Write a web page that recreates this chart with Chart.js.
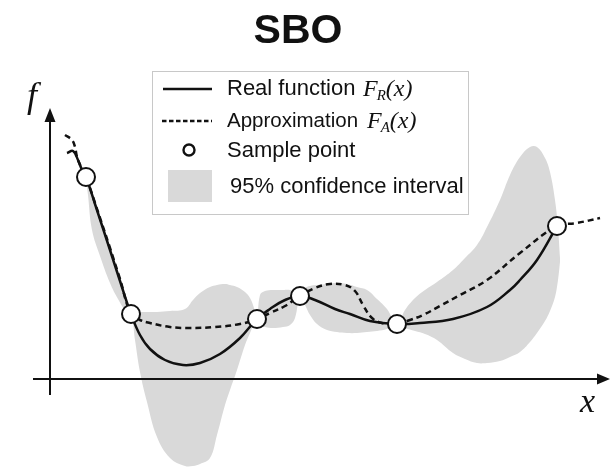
<!DOCTYPE html>
<html>
<head>
<meta charset="utf-8">
<title>SBO</title>
<script src="https://cdn.jsdelivr.net/npm/chart.js@4.4.0/dist/chart.umd.min.js"></script>
<style>
  html, body { margin: 0; padding: 0; background: #fff; }
  #wrap { width: 610px; height: 468px; }
</style>
</head>
<body>
<div id="wrap"><canvas id="sboChart" width="610" height="468"></canvas></div>
<script>
// plot units, origin at the crossing of the two axes
const sampleX = [0.72, 1.62, 4.14, 5.00, 6.94, 10.14];
const sampleY = [4.04, 1.30, 1.20, 1.66, 1.10, 3.06];

const realX = [0.34, 0.46, 0.56, 0.64, 0.72, 0.90, 1.20, 1.40, 1.62, 1.80, 2.00, 2.30, 2.66, 3.00, 3.40, 3.80, 4.14,
               4.40, 4.70, 5.00, 5.30, 5.70, 6.00, 6.40, 6.94, 7.40, 8.06, 8.74, 9.20, 9.40, 9.74, 10.14];
const realY = [4.52, 4.56, 4.38, 4.18, 4.04, 3.50, 2.58, 1.96, 1.30, 0.88, 0.60, 0.38, 0.28, 0.32, 0.50, 0.82, 1.20,
               1.40, 1.58, 1.66, 1.58, 1.40, 1.30, 1.16, 1.10, 1.12, 1.20, 1.44, 1.78, 1.98, 2.38, 3.06];

const approxX = [0.30, 0.44, 0.50, 0.54, 0.62, 0.72, 0.90, 1.20, 1.40, 1.62, 1.80, 2.00, 2.40, 2.80, 3.30, 3.80, 4.14,
                 4.40, 4.70, 5.00, 5.30, 5.60, 5.90, 6.10, 6.26, 6.44, 6.64, 6.94, 7.20, 7.46, 7.80, 8.20, 8.74,
                 9.40, 10.14, 10.54, 11.00];
const approxY = [4.88, 4.78, 4.64, 4.44, 4.24, 4.04, 3.52, 2.62, 2.00, 1.30, 1.18, 1.12, 1.04, 1.02, 1.04, 1.10, 1.20,
                 1.32, 1.46, 1.66, 1.82, 1.90, 1.88, 1.76, 1.48, 1.22, 1.12, 1.10, 1.18, 1.28, 1.46, 1.68, 1.98,
                 2.52, 3.06, 3.12, 3.22];

const bandX = [0.72, 0.76, 0.84, 1.00, 1.20, 1.36, 1.50, 1.62, 1.70, 1.80, 1.94, 2.14, 2.40, 2.70, 2.86, 3.00,
               3.20, 3.34, 3.50, 3.60, 3.74, 3.90, 4.00, 4.08, 4.14, 4.20, 4.30, 4.46, 4.66, 4.80, 4.90, 5.00,
               5.10, 5.20, 5.34, 5.54, 5.74, 5.94, 6.14, 6.34, 6.54, 6.74, 6.94, 7.10, 7.30, 7.50, 7.74, 8.06,
               8.30, 8.54, 8.74, 9.00, 9.20, 9.40, 9.60, 9.74, 9.90, 10.00, 10.10, 10.16, 10.20];
const bandUpper = [4.04, 3.98, 3.72, 3.24, 2.62, 2.14, 1.72, 1.30, 1.34, 1.34, 1.34, 1.34, 1.36, 1.40, 1.58, 1.72,
                   1.84, 1.88, 1.90, 1.88, 1.84, 1.74, 1.62, 1.42, 1.20, 1.68, 1.76, 1.78, 1.78, 1.78, 1.74, 1.66,
                   1.82, 1.86, 1.88, 1.90, 1.92, 1.90, 1.84, 1.78, 1.60, 1.40, 1.10, 1.38, 1.62, 1.78, 1.94, 2.18,
                   2.42, 2.68, 3.04, 3.58, 4.08, 4.44, 4.64, 4.64, 4.42, 4.14, 3.58, 3.02, 2.42];
const bandLower = [4.04, 3.68, 2.98, 2.46, 1.92, 1.60, 1.38, 1.30, 0.78, 0.14, -0.46, -1.16, -1.58, -1.74, -1.74, -1.70,
                   -1.58, -1.12, -0.52, -0.22, 0.18, 0.68, 0.92, 1.10, 1.20, 1.08, 1.04, 1.02, 1.04, 1.08, 1.22, 1.66,
                   1.48, 1.28, 1.10, 0.98, 0.94, 0.92, 0.92, 0.94, 0.96, 1.00, 1.10, 1.02, 0.96, 0.90, 0.78, 0.52,
                   0.40, 0.32, 0.32, 0.36, 0.44, 0.54, 0.74, 0.92, 1.16, 1.36, 1.64, 1.98, 2.34];

const toPoints = (xs, ys) => xs.map((x, i) => ({ x: x, y: ys[i] }));

const bandGrey = '#d9d9d9';
const ink = '#111';

// axes with arrow heads, axis names, title and the framed legend
const sketchDecor = {
    id: 'sketchDecor',
    beforeDatasetsDraw(chart) {
        const { ctx, scales: { x, y } } = chart;
        const ox = x.getPixelForValue(0);
        const oy = y.getPixelForValue(0);
        const xL = x.getPixelForValue(-0.34), xR = x.getPixelForValue(11.2);
        const yB = y.getPixelForValue(-0.32), yT = y.getPixelForValue(5.42);
        ctx.save();
        ctx.strokeStyle = ink;
        ctx.fillStyle = ink;
        ctx.lineWidth = 2;
        ctx.beginPath();
        ctx.moveTo(xL, oy); ctx.lineTo(xR - 10, oy);
        ctx.moveTo(ox, yB); ctx.lineTo(ox, yT + 10);
        ctx.stroke();
        ctx.beginPath();
        ctx.moveTo(xR, oy); ctx.lineTo(xR - 13, oy - 5.5); ctx.lineTo(xR - 13, oy + 5.5); ctx.closePath();
        ctx.moveTo(ox, yT); ctx.lineTo(ox - 5.5, yT + 14); ctx.lineTo(ox + 5.5, yT + 14); ctx.closePath();
        ctx.fill();
        ctx.restore();
    },
    afterDraw(chart) {
        const ctx = chart.ctx;
        ctx.save();
        ctx.fillStyle = ink;

        // title
        ctx.font = 'bold 41px "Liberation Sans", Arial, sans-serif';
        ctx.textAlign = 'center';
        ctx.textBaseline = 'alphabetic';
        ctx.fillText('SBO', 298, 43);

        // axis names
        ctx.textAlign = 'left';
        ctx.font = 'italic 36px "Liberation Serif", "Times New Roman", serif';
        ctx.fillText('f', 27, 107);
        ctx.font = 'italic 34px "Liberation Serif", "Times New Roman", serif';
        ctx.fillText('x', 580, 412);

        // legend frame
        ctx.fillStyle = '#fff';
        ctx.fillRect(152.5, 71.5, 316, 143);
        ctx.strokeStyle = '#c8c8c8';
        ctx.lineWidth = 1;
        ctx.strokeRect(152.5, 71.5, 316, 143);

        // legend symbols
        ctx.strokeStyle = ink;
        ctx.lineWidth = 2.5;
        ctx.beginPath(); ctx.moveTo(163, 89); ctx.lineTo(212, 89); ctx.stroke();
        ctx.setLineDash([4.5, 2.5]);
        ctx.beginPath(); ctx.moveTo(162, 121); ctx.lineTo(212, 121); ctx.stroke();
        ctx.setLineDash([]);
        ctx.fillStyle = '#fff';
        ctx.lineWidth = 2.4;
        ctx.beginPath(); ctx.arc(189, 150, 5.5, 0, Math.PI * 2); ctx.fill(); ctx.stroke();
        ctx.fillStyle = bandGrey;
        ctx.fillRect(168, 170, 44, 32);

        // legend texts
        ctx.fillStyle = ink;
        ctx.textBaseline = 'middle';
        ctx.font = '22px "Liberation Sans", Arial, sans-serif';
        ctx.fillText('Real function', 227, 89);
        ctx.fillText('Sample point', 227, 151);
        ctx.fillText('95% confidence interval', 230, 187);
        ctx.font = '20.5px "Liberation Sans", Arial, sans-serif';
        ctx.fillText('Approximation', 227, 121);

        const formula = (x0, yMid, sub) => {
            ctx.textBaseline = 'alphabetic';
            const base = yMid + 8;
            ctx.font = 'italic 24px "Liberation Serif", "Times New Roman", serif';
            ctx.fillText('F', x0, base);
            let cx = x0 + ctx.measureText('F').width;
            ctx.font = 'italic 15px "Liberation Serif", "Times New Roman", serif';
            ctx.fillText(sub, cx - 1, base + 4);
            cx += ctx.measureText(sub).width - 1;
            ctx.font = 'italic 24px "Liberation Serif", "Times New Roman", serif';
            ctx.fillText('(x)', cx, base);
        };
        formula(363, 88, 'R');
        formula(367, 120, 'A');
        ctx.restore();
    }
};

const ctx = document.getElementById('sboChart').getContext('2d');
const chart = new Chart(ctx, {
    type: 'line',
    data: {
        datasets: [
            {
                label: 'Sample point',
                data: toPoints(sampleX, sampleY),
                showLine: false,
                pointRadius: 9,
                pointBorderWidth: 2,
                pointBackgroundColor: '#fff',
                pointBorderColor: ink
            },
            {
                label: 'Real function',
                data: toPoints(realX, realY),
                borderColor: ink,
                borderWidth: 2.5,
                pointRadius: 0,
                tension: 0.4
            },
            {
                label: 'Approximation',
                data: toPoints(approxX, approxY),
                borderColor: ink,
                borderWidth: 2.5,
                borderDash: [6, 4],
                pointRadius: 0,
                tension: 0.4
            },
            {
                label: '95% confidence interval',
                data: toPoints(bandX, bandUpper),
                borderColor: 'rgba(0,0,0,0)',
                borderWidth: 0,
                backgroundColor: bandGrey,
                pointRadius: 0,
                fill: 4,
                tension: 0.4
            },
            {
                label: 'band lower',
                data: toPoints(bandX, bandLower),
                borderColor: 'rgba(0,0,0,0)',
                borderWidth: 0,
                pointRadius: 0,
                fill: false,
                tension: 0.4
            }
        ]
    },
    options: {
        responsive: false,
        devicePixelRatio: 1,
        animation: false,
        events: [],
        layout: { padding: 0, autoPadding: false },
        scales: {
            x: { type: 'linear', min: -1, max: 11.2, display: false },
            y: { type: 'linear', min: -1.78, max: 7.58, display: false }
        },
        plugins: {
            legend: { display: false },
            tooltip: { enabled: false },
            title: { display: false },
            filler: { drawTime: 'beforeDatasetsDraw' }
        }
    },
    plugins: [sketchDecor]
});
</script>
</body>
</html>
